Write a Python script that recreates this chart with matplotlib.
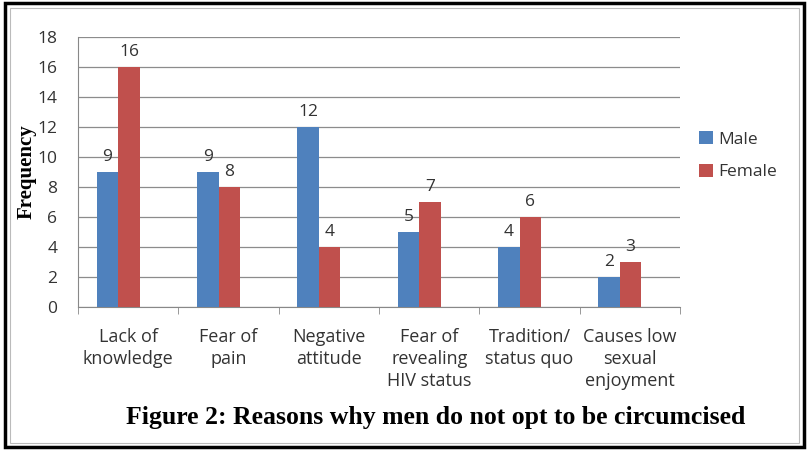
import matplotlib
matplotlib.use("Agg")
import matplotlib.pyplot as plt
import numpy as np
from matplotlib.patches import Rectangle

categories = ["Lack of\nknowledge", "Fear of\npain", "Negative\nattitude",
              "Fear of\nrevealing\nHIV status", "Tradition/\nstatus quo",
              "Causes low\nsexual\nenjoyment"]
male = [9, 9, 12, 5, 4, 2]
female = [16, 8, 4, 7, 6, 3]
yticks = [0, 2, 4, 6, 8, 10, 12, 14, 16, 18]

blue = "#4F81BD"
red = "#C0504D"
sans = ["Open Sans", "DejaVu Sans"]

fig = plt.figure(figsize=(8.07, 4.5), dpi=100)
ax = fig.add_axes([0.0967, 0.318, 0.746, 0.6])

x = np.arange(len(categories))
w = 0.215
off = -0.1
b1 = ax.bar(x + off - w / 2, male, w, color=blue, label="Male", zorder=3)
b2 = ax.bar(x + off + w / 2, female, w, color=red, label="Female", zorder=3)

for bars in (b1, b2):
    for r in bars:
        ax.text(r.get_x() + r.get_width() / 2, r.get_height() + 0.45,
                f"{int(r.get_height())}", ha="center", va="bottom",
                fontsize=12.5, family=sans, color="#333333")

ax.set_xlim(-0.5, len(categories) - 0.5)
ax.set_ylim(0, 18)
ax.set_yticks(yticks)
ax.set_yticklabels([str(t) for t in yticks], fontsize=12.5, family=sans, color="#333333")
ax.set_xticks(x)
ax.set_xticklabels(categories, fontsize=13, family=sans, linespacing=1.3,
                   color="#333333")
ax.set_xticks(np.arange(-0.5, len(categories)), minor=True)
ax.tick_params(axis="x", which="major", length=0, pad=15)
ax.tick_params(axis="x", which="minor", length=5, color="#888888")
ax.tick_params(axis="y", length=0, pad=15)

ax.grid(axis="y", color="#8c8c8c", linewidth=0.9, zorder=0)
for s in ["top", "right"]:
    ax.spines[s].set_visible(False)
ax.spines["left"].set_color("#888888")
ax.spines["bottom"].set_color("#888888")

ax.set_ylabel("Frequency", family="Liberation Serif", fontweight="bold",
              fontsize=15)
ax.yaxis.set_label_coords(-0.068, 0.5)

leg = ax.legend(loc="center left", bbox_to_anchor=(1.005, 0.56), frameon=False,
                prop={"family": sans, "size": 12.5}, handlelength=0.8,
                handleheight=0.8, handletextpad=0.3, labelspacing=0.9)
for t in leg.get_texts():
    t.set_color("#333333")

fig.text(0.54, 0.073, "Figure 2: Reasons why men do not opt to be circumcised",
         ha="center", va="center", family="Liberation Serif",
         fontweight="bold", fontsize=18.5)

# outer frame
fig.patches.append(Rectangle((0.006, 0.006), 0.99, 0.987, transform=fig.transFigure,
                             fill=False, edgecolor="black", linewidth=2.5))
fig.patches.append(Rectangle((0.012, 0.016), 0.978, 0.967, transform=fig.transFigure,
                             fill=False, edgecolor="#bbbbbb", linewidth=0.8))

fig.savefig("out.png", dpi=100)
